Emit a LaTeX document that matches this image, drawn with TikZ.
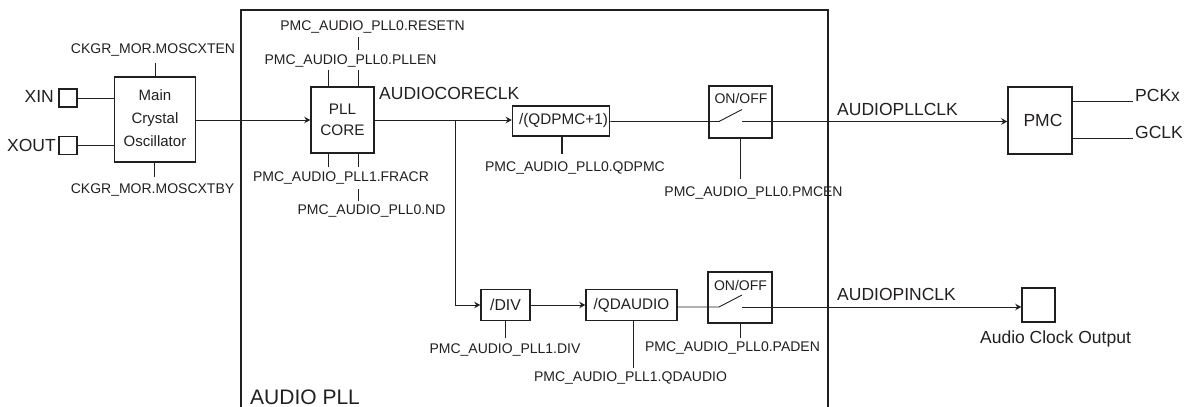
\documentclass[tikz,border=0pt]{standalone}
\usepackage{fontspec}
\setmainfont{Liberation Sans}
\usetikzlibrary{arrows.meta}
\definecolor{ink}{HTML}{231F20}
\tikzset{
  blk/.style={draw=ink,line width=1.5pt,inner sep=0pt,align=center,text=ink,font=\fontsize{15.3}{23}\selectfont},
  lab/.style={inner sep=0pt,text=ink,font=\fontsize{14}{16}\selectfont,text height=10pt,text depth=3pt},
  big/.style={inner sep=0pt,text=ink,font=\fontsize{17.5}{20}\selectfont,text height=12.5pt,text depth=0pt},
  wire/.style={draw=ink,line width=0.9pt},
  thick wire/.style={draw=ink,line width=1.7pt},
  arr/.style={wire,-{Stealth[length=6pt,width=6.5pt]}},
}
\begin{document}
\begin{tikzpicture}[x=1pt,y=-1pt]
\useasboundingbox (0,0) rectangle (1192,407);
\fill[white] (0,0) rectangle (1192,407);
% labels that the frame crosses come first
\node[lab] (lpmcen) at (753.5,193) {PMC\_AUDIO\_PLL0.PMCEN};
% frame
\draw[draw=ink,line width=1.6pt] (241,407) -- (241,10) -- (828,10) -- (828,407);
\node[inner sep=0pt,text=ink,font=\fontsize{21}{24}\selectfont,anchor=base west] (laudiopll) at (250,404) {AUDIO PLL};
% blocks
\node[blk,minimum width=18pt,minimum height=18pt] (xin) at (68,98) {};
\node[blk,minimum width=18pt,minimum height=18pt] (xout) at (68,145.5) {};
\node[big,anchor=east] (lxin) at (54,96) {XIN};
\node[big,anchor=east] (lxout) at (56,145) {XOUT};
\node[blk,minimum width=81pt,minimum height=85pt] (main) at (155,119.5) {};
\node[inner sep=0pt,align=center,text=ink,font=\fontsize{15}{23}\selectfont] (maint) at (155,118.5) {Main\\Crystal\\Oscillator};
\node[blk,minimum width=63pt,minimum height=66pt,font=\fontsize{15.3}{21.5}\selectfont] (pll) at (342.5,120) {PLL\\CORE};
\node[blk,minimum width=97pt,minimum height=30pt] (qdpmc) at (561,121) {\hspace{5pt}/(QDPMC+1)};
\node[blk,minimum width=63pt,minimum height=52pt] (sw1) at (740.5,112) {};
\node[blk,minimum width=49pt,minimum height=31pt,font=\fontsize{15.8}{18}\selectfont] (div) at (505.5,305) {/DIV};
\node[blk,minimum width=91pt,minimum height=31pt] (qdaudio) at (631.5,305) {/QDAUDIO};
\node[blk,minimum width=64pt,minimum height=51pt] (sw2) at (740,297.5) {};
\node[blk,minimum width=64pt,minimum height=67pt] (pmc) at (1040,120.5) {};
\node[inner sep=0pt,text=ink,font=\fontsize{17.5}{20}\selectfont] (pmct) at (1043,120) {PMC};
\node[blk,minimum width=33pt,minimum height=34pt] (out) at (1038.5,305) {};
% on/off captions
\node[lab] (on1) at (741,100) {ON/OFF};
\node[lab] (on2) at (740.5,286.5) {ON/OFF};
% switch coordinates
\coordinate (s1a) at (719,121.5);
\coordinate (s1b) at (742,109.5);
\coordinate (s1c) at (742,121.5);
\coordinate (s2a) at (719,307);
\coordinate (s2b) at (742,295);
\coordinate (s2c) at (742,307);
\coordinate (branch) at (455,120);
% signal paths
\draw[wire] (xin) -- (main.west |- xin);
\draw[wire] (xout) -- (main.west |- xout);
\draw[arr] (main.east |- pll.west) -- (pll.west);
\draw[arr] (pll.east) -- (qdpmc.west |- pll.east);
\draw[arr] (branch) |- (div.west);
\draw[arr] (div.east) -- (qdaudio.west);
\draw[wire] (qdpmc.east |- s1a) -- (s1a) -- (s1b);
\draw[arr] (s1c) -- (pmc.west |- s1c);
\draw[wire] (qdaudio.east |- s2a) -- (s2a) -- (s2b);
\draw[arr] (s2c) -- (out.west |- s2c);
% top/bottom control ticks
\coordinate (t1) at (155,63);
\coordinate (t2) at (154,177);
\coordinate (t3) at (328,70);
\coordinate (t4) at (358,70);
\coordinate (t5) at (328,167);
\coordinate (t6) at (358,167);
\coordinate (t7) at (358,37);
\coordinate (t7b) at (358,50);
\coordinate (t8) at (358,189);
\coordinate (t8b) at (358,201);
\coordinate (t9) at (562,154);
\coordinate (t10) at (740.5,179);
\coordinate (t11) at (505,338);
\coordinate (t12) at (633,368);
\coordinate (t13) at (740,338);
\draw[wire] (t1) -- (t1 |- main.north);
\draw[wire] (t2) -- (t2 |- main.south);
\draw[wire] (t3) -- (t3 |- pll.north);
\draw[wire] (t4) -- (t4 |- pll.north);
\draw[wire] (t5) -- (t5 |- pll.south);
\draw[wire] (t6) -- (t6 |- pll.south);
\draw[wire] (t7) -- (t7b);
\draw[wire] (t8) -- (t8b);
\draw[thick wire] (t9) -- (t9 |- qdpmc.south);
\draw[thick wire] (t10) -- (t10 |- sw1.south);
\draw[wire] (t11) -- (t11 |- div.south);
\draw[wire] (t12) -- (t12 |- qdaudio.south);
\draw[wire] (t13) -- (t13 |- sw2.south);
% outputs of PMC
\coordinate (pck) at (1133,101);
\coordinate (gck) at (1133,138);
\draw[wire] (pmc.east |- pck) -- (pck);
\draw[wire] (pmc.east |- gck) -- (gck);
% text
\node[lab] (l1) at (153,50) {CKGR\_MOR.MOSCXTEN};
\node[lab] (l2) at (152.5,190) {CKGR\_MOR.MOSCXTBY};
\node[lab] (l3) at (372.5,27) {PMC\_AUDIO\_PLL0.RESETN};
\node[lab] (l4) at (350.5,61) {PMC\_AUDIO\_PLL0.PLLEN};
\node[lab] (l5) at (341,178) {PMC\_AUDIO\_PLL1.FRACR};
\node[lab] (l6) at (371.5,211) {PMC\_AUDIO\_PLL0.ND};
\node[lab] (l7) at (575,168) {PMC\_AUDIO\_PLL0.QDPMC};
\node[lab] (l8) at (505,350) {PMC\_AUDIO\_PLL1.DIV};
\node[lab] (l9) at (630.5,378) {PMC\_AUDIO\_PLL1.QDAUDIO};
\node[lab] (l10) at (732.5,348) {PMC\_AUDIO\_PLL0.PADEN};
\node[big,anchor=west] (l11) at (379,93) {AUDIOCORECLK};
\node[big,anchor=west] (l12) at (837,109) {AUDIOPLLCLK};
\node[big,anchor=west] (l13) at (837,294) {AUDIOPINCLK};
\node[big,anchor=west] (l14) at (1135,95) {PCKx};
\node[big,anchor=west] (l15) at (1135,132) {GCLK};
\node[big] (l16) at (1055.5,337) {Audio Clock Output};
\end{tikzpicture}
\end{document}
